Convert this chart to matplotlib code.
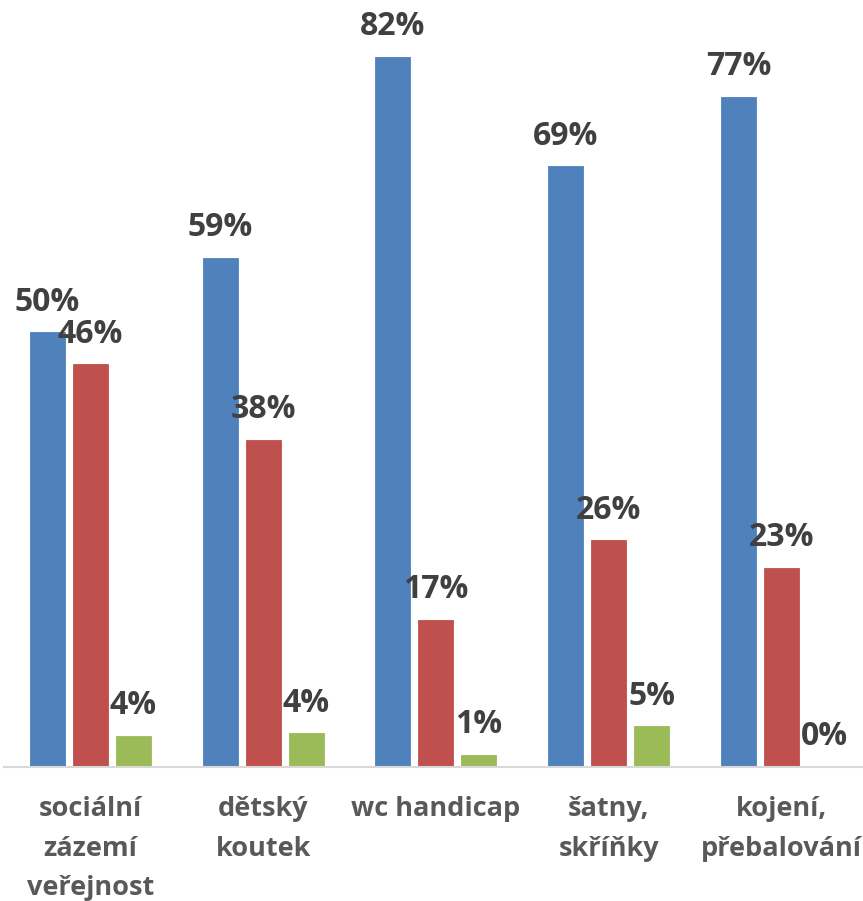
import matplotlib
matplotlib.use("Agg")
import matplotlib.pyplot as plt
import numpy as np

categories = ["sociální\nzázemí\nveřejnost", "dětský\nkoutek", "wc handicap", "šatny,\nskříňky", "kojení,\npřebalování"]
series_blue = [50.2, 58.8, 82.0, 69.4, 77.4]
series_red = [46.5, 37.8, 17.0, 26.2, 23.0]
series_green = [3.6, 3.9, 1.4, 4.7, 0.0]

colors = ["#4F81BD", "#C0504D", "#9BBB59"]
plt.rcParams['font.family'] = ['Open Sans', 'DejaVu Sans']

W, H = 863, 901
fig = plt.figure(figsize=(W / 100, H / 100), dpi=100)
ax_left = 4 / W
ax_bottom = (H - 767) / H
ax = fig.add_axes([ax_left, ax_bottom, 1 - ax_left, 767 / H])

x = np.arange(len(categories))
width = 0.203
offset = 0.249
px_per_unit = 172.75
ax.set_xlim(-0.5, -0.5 + (W - 4) / px_per_unit)
ax.set_ylim(0, 767 / (710 / 82))

for i, (vals, col) in enumerate(zip([series_blue, series_red, series_green], colors)):
    xs = x + (i - 1) * offset
    ax.bar(xs, vals, width=width, color=col, edgecolor=col, linewidth=0.6, zorder=2)
    for xi, v in zip(xs, vals):
        ax.annotate(f"{v:.0f}%", (xi, v), xytext=(0, 15.5), textcoords="offset points",
                    ha="center", va="baseline", fontsize=23, fontweight="bold",
                    color="#404040", zorder=3, annotation_clip=False)

for s in ["top", "left", "right"]:
    ax.spines[s].set_visible(False)
ax.spines["bottom"].set_color("#D9D9D9")
ax.spines["bottom"].set_linewidth(1.5)
ax.set_yticks([])
ax.set_xticks(x)
ax.set_xticklabels(categories, fontsize=19.5, fontweight="bold", color="#595959",
                   linespacing=1.68)
ax.tick_params(axis="x", length=0, pad=21)

fig.savefig("out.png", dpi=100)
